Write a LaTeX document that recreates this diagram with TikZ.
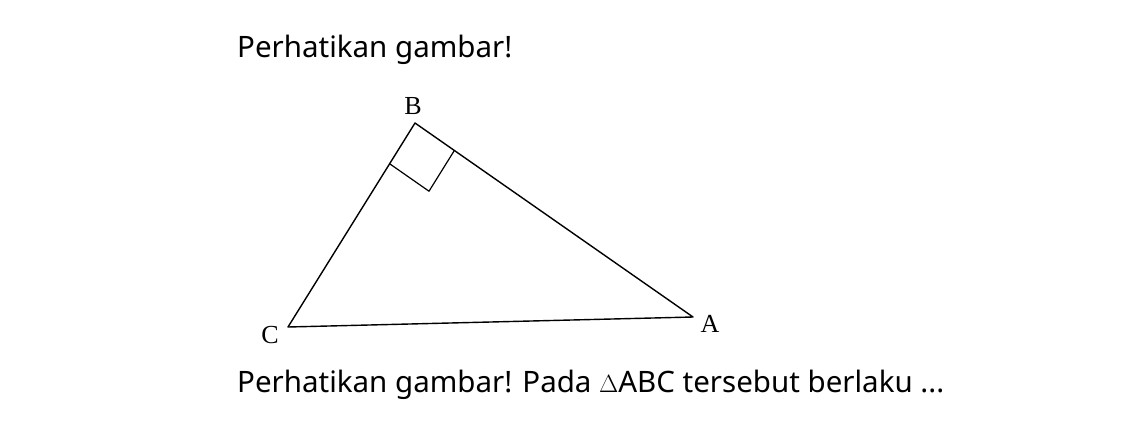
\documentclass[tikz,border=0pt]{standalone}
\usepackage{fontspec}
\setmainfont{Noto Sans}
\newfontfamily\labelfont{Liberation Serif}
\usepackage{tikz}
\usetikzlibrary{calc}
\tikzset{
  side/.style={draw=black,line width=1.4pt,line join=round},
  caption/.style={anchor=base west,inner sep=0pt,font=\fontsize{29.5}{34}\selectfont},
  vertex/.style={inner sep=0pt,font=\labelfont\fontsize{26}{30}\selectfont}
}
\begin{document}
\begin{tikzpicture}[x=1pt,y=-1pt]
  \useasboundingbox (0,0) rectangle (1148,440);
  \node[caption] (title) at (237,57) {Perhatikan gambar!};
  \coordinate (B) at (415,123);
  \coordinate (C) at (288,327);
  \coordinate (A) at (693,317);
  \draw[side] (C)--(B)--(A)--cycle;
  \coordinate (sqC) at ($(B)!48pt!(C)$);
  \coordinate (sqA) at ($(B)!48pt!(A)$);
  \coordinate (sqD) at ($(sqC)+(sqA)-(B)$);
  \draw[side,line width=1.2pt] (sqC)--(sqD)--(sqA);
  \node[vertex] (labB) at (413,106) {B};
  \node[vertex] (labC) at (270,335) {C};
  \node[vertex] (labA) at (710,324) {A};
  \node[caption] (question) at (237,392) {Perhatikan gambar! Pada $\Delta$ABC tersebut berlaku ...};
\end{tikzpicture}
\end{document}
